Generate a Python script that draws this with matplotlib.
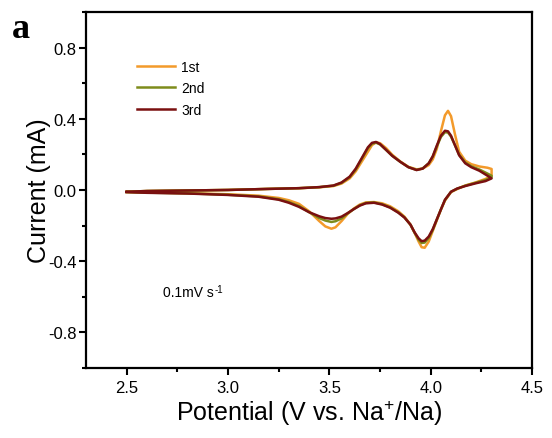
import matplotlib
matplotlib.use("Agg")
import matplotlib.pyplot as plt
from matplotlib.ticker import MultipleLocator

plt.rcParams['font.family'] = ['Liberation Sans', 'DejaVu Sans']
plt.rcParams['axes.unicode_minus'] = False
plt.rcParams['mathtext.fontset'] = 'custom'
plt.rcParams['mathtext.rm'] = 'Liberation Sans'
plt.rcParams['mathtext.it'] = 'Liberation Sans:italic'

# Anodic sweep (2.5 -> 4.3 V)
v_anodic = [2.50, 2.60, 2.80, 3.00, 3.20, 3.35, 3.45, 3.52, 3.56, 3.60, 3.63, 3.66,
            3.69, 3.71, 3.73, 3.75, 3.78, 3.81, 3.85, 3.89, 3.93, 3.96, 3.99, 4.01,
            4.03, 4.05, 4.07, 4.085, 4.10, 4.12, 4.14, 4.17, 4.20, 4.24, 4.28, 4.30]
i_anodic_1st = [-0.010, -0.006, -0.003, 0.000, 0.006, 0.010, 0.015, 0.022, 0.036, 0.065, 0.105, 0.160,
                0.215, 0.252, 0.268, 0.263, 0.235, 0.198, 0.160, 0.130, 0.116, 0.120, 0.140, 0.172,
                0.232, 0.330, 0.420, 0.445, 0.415, 0.310, 0.215, 0.165, 0.145, 0.132, 0.125, 0.118]
i_anodic_2nd = [-0.010, -0.006, -0.003, 0.000, 0.006, 0.010, 0.016, 0.024, 0.040, 0.072, 0.115, 0.175,
                0.235, 0.260, 0.266, 0.256, 0.225, 0.192, 0.158, 0.128, 0.113, 0.121, 0.150, 0.188,
                0.245, 0.298, 0.325, 0.323, 0.300, 0.250, 0.198, 0.155, 0.133, 0.115, 0.092, 0.080]
i_anodic_3rd = [-0.010, -0.006, -0.003, 0.000, 0.006, 0.010, 0.016, 0.025, 0.042, 0.075, 0.120, 0.180,
                0.240, 0.265, 0.270, 0.258, 0.225, 0.192, 0.158, 0.128, 0.112, 0.120, 0.150, 0.190,
                0.250, 0.305, 0.333, 0.330, 0.305, 0.250, 0.195, 0.150, 0.128, 0.108, 0.080, 0.065]

# Cathodic sweep (4.3 -> 2.5 V)
v_cathodic = [4.30, 4.27, 4.22, 4.17, 4.13, 4.10, 4.07, 4.05, 4.03, 4.01, 3.99, 3.97,
              3.955, 3.94, 3.92, 3.90, 3.87, 3.84, 3.80, 3.76, 3.72, 3.68, 3.65, 3.62,
              3.59, 3.56, 3.53, 3.51, 3.48, 3.45, 3.40, 3.35, 3.30, 3.25, 3.15, 3.00,
              2.80, 2.60, 2.50]
i_cathodic_1st = [0.080, 0.062, 0.042, 0.025, 0.005, -0.012, -0.060, -0.110, -0.170, -0.230, -0.290, -0.325,
                  -0.322, -0.290, -0.240, -0.195, -0.150, -0.120, -0.092, -0.075, -0.068, -0.070, -0.082, -0.105,
                  -0.135, -0.175, -0.210, -0.218, -0.205, -0.175, -0.120, -0.078, -0.058, -0.045, -0.032, -0.024,
                  -0.018, -0.014, -0.012]
i_cathodic_2nd = [0.072, 0.056, 0.040, 0.024, 0.007, -0.010, -0.057, -0.110, -0.166, -0.224, -0.270, -0.296,
                  -0.298, -0.280, -0.240, -0.196, -0.154, -0.126, -0.098, -0.080, -0.070, -0.073, -0.086, -0.108,
                  -0.132, -0.160, -0.176, -0.180, -0.172, -0.158, -0.125, -0.090, -0.068, -0.052, -0.036, -0.027,
                  -0.019, -0.015, -0.012]
i_cathodic_3rd = [0.065, 0.050, 0.037, 0.022, 0.008, -0.010, -0.055, -0.110, -0.165, -0.220, -0.262, -0.285,
                  -0.288, -0.272, -0.238, -0.195, -0.155, -0.128, -0.100, -0.082, -0.072, -0.075, -0.088, -0.108,
                  -0.130, -0.150, -0.160, -0.162, -0.158, -0.148, -0.125, -0.095, -0.072, -0.055, -0.038, -0.028,
                  -0.020, -0.016, -0.012]

cycles = ["1st", "2nd", "3rd"]
colors = ["#F39A2B", "#7E8C1C", "#7A1010"]
anodic = [i_anodic_1st, i_anodic_2nd, i_anodic_3rd]
cathodic = [i_cathodic_1st, i_cathodic_2nd, i_cathodic_3rd]
y_ticks = [-0.8, -0.4, 0.0, 0.4, 0.8]

fig = plt.figure(figsize=(5.52, 4.39), dpi=100)
ax = fig.add_axes([0.156, 0.16, 0.808, 0.81])

for name, col, ia, ic in zip(cycles, colors, anodic, cathodic):
    ax.plot(v_anodic + v_cathodic, ia + ic, color=col, lw=1.8, label=name,
            solid_joinstyle='round')

ax.set_xlim(2.3, 4.5)
ax.set_ylim(-1.0, 1.0)
ax.xaxis.set_major_locator(MultipleLocator(0.5))
ax.xaxis.set_minor_locator(MultipleLocator(0.25))
ax.set_yticks(y_ticks)
ax.yaxis.set_minor_locator(MultipleLocator(0.2))
ax.tick_params(which='major', direction='out', length=5, width=1.5, labelsize=12)
ax.tick_params(which='minor', direction='out', length=3, width=1.5)
ax.tick_params(axis='y', pad=2)
for s in ax.spines.values():
    s.set_linewidth(1.6)

ax.set_xlabel("Potential (V vs. Na$^{+}$/Na)", fontsize=18, labelpad=2)
ax.set_ylabel("Current (mA)", fontsize=18, labelpad=-2)

leg = ax.legend(loc='upper left', bbox_to_anchor=(0.085, 0.902), frameon=False,
                fontsize=10, handlelength=2.8, handletextpad=0.4, labelspacing=0.55)

t = ax.text(0.173, 0.213, "0.1mV s", transform=ax.transAxes, fontsize=10,
            ha='left', va='center')
ax.annotate("-1", xy=(1, 1), xycoords=t, xytext=(0.5, 1), textcoords='offset points',
            fontsize=7, ha='left', va='top')

fig.text(0.022, 0.932, "a", fontsize=26, fontweight='bold',
         family=['Liberation Serif', 'DejaVu Serif'], ha='left', va='center')

fig.savefig("out.png", dpi=100)
